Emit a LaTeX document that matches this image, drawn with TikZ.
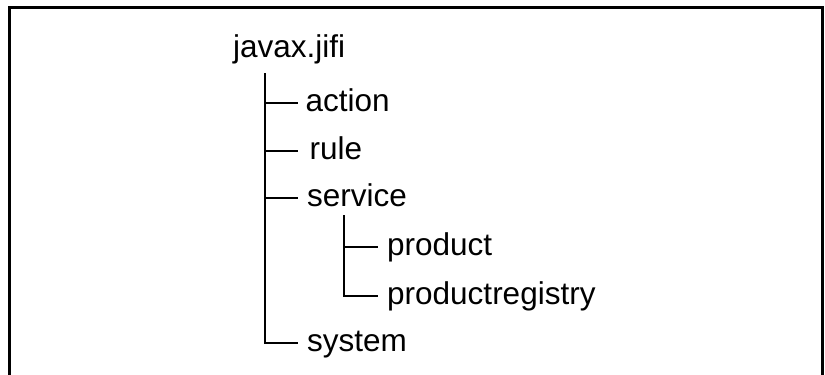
\documentclass[tikz,border=0pt]{standalone}
\usepackage{fontspec}
\setmainfont{Liberation Sans}
\begin{document}
\begin{tikzpicture}[x=1pt,y=-1pt,
  label font/.style={font=\fontsize{31.5}{38}\selectfont},
  item/.style={label font, anchor=west, inner xsep=9pt, inner ysep=0pt,
               text height=16.3pt, text depth=0pt},
  branch/.style={line width=2pt, line join=miter},
  frame/.style={line width=3pt}]
  \useasboundingbox (0,0) rectangle (825,375);
  \clip (0,0) rectangle (825,375);

  % open frame around the package tree
  \draw[frame] (9,385) -- (9,7) -- (822,7) -- (822,385);

  % root package
  \node[label font, anchor=base west, inner sep=0pt] (root) at (233,57) {javax.jifi};

  % first-level packages
  \node[item, inner xsep=7.5pt]  (action)   at (298,103) {action};
  \node[item, inner xsep=11.5pt] (rule)     at (298,151) {rule};
  \node[item]                    (service)  at (298,198) {service};
  \node[item]                    (system)   at (298,343) {system};

  % packages below service
  \node[item] (product)  at (378,247) {product};
  \node[item] (registry) at (378,296) {productregistry};

  % tree trunks
  \coordinate (trunk)    at (265,73);
  \coordinate (subtrunk) at (344,215);

  \draw[branch] (trunk) |- (action);
  \draw[branch] (trunk) |- (rule);
  \draw[branch] (trunk) |- (service);
  \draw[branch] (trunk) |- (system);

  \draw[branch] (subtrunk) |- (product);
  \draw[branch] (subtrunk) |- (registry);
\end{tikzpicture}
\end{document}
